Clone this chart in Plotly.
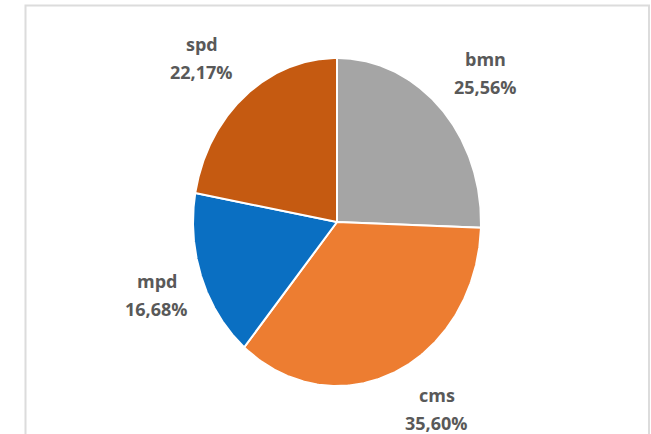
import numpy as np
import plotly.graph_objects as go

# ---- data ----
categories = ["bmn", "cms", "mpd", "spd"]
shares = [25.56, 35.60, 16.68, 22.17]
colors = ["#A5A5A5", "#ED7D31", "#0A6FC2", "#C55A11"]

# ---- layout helpers (not data) ----
W, H = 651, 434
CX, CY = 337, 222          # pie centre in px
RX, RY = 144, 164          # pie radii in px (stretched)
LABEL_R = 1.3
label_nudge = [(14, -1), (24, -8), (-4, 1), (-15, 0)]  # px (dx right, dy down)

fig = go.Figure()

total = sum(shares)
start = 0.0
for name, v, col, nud in zip(categories, shares, colors, label_nudge):
    a0 = start / total * 2 * np.pi
    a1 = (start + v) / total * 2 * np.pi
    t = np.linspace(a0, a1, 200)
    xs = np.concatenate([[0], np.sin(t), [0]])
    ys = np.concatenate([[0], np.cos(t), [0]])
    fig.add_trace(go.Scatter(
        x=xs, y=ys, mode="lines", fill="toself", fillcolor=col,
        line=dict(color="white", width=2), hoverinfo="skip", showlegend=False,
    ))
    am = (a0 + a1) / 2
    lx = LABEL_R * np.sin(am)
    ly = LABEL_R * np.cos(am)
    pct = f"{v:.2f}".replace(".", ",") + "%"
    for txt, ys_ in ((name, 14), (pct, -14)):
        fig.add_annotation(
            x=lx, y=ly, text=txt, showarrow=False,
            xshift=nud[0], yshift=ys_ - nud[1],
            font=dict(family="Open Sans", size=18, color="#595959", weight="bold"),
        )
    start += v

fig.update_xaxes(range=[-CX / RX, (W - CX) / RX], visible=False, fixedrange=True)
fig.update_yaxes(range=[-(H - CY) / RY, CY / RY], visible=False, fixedrange=True)

fig.add_shape(type="rect", xref="paper", yref="paper",
              x0=25.5 / W, x1=649 / W, y0=-0.05, y1=1 - 5.5 / H,
              line=dict(color="#DCDCDC", width=2), layer="below")

fig.update_layout(
    width=W, height=H, margin=dict(l=0, r=0, t=0, b=0),
    paper_bgcolor="white", plot_bgcolor="white", showlegend=False,
)

fig.write_html("out.html")
